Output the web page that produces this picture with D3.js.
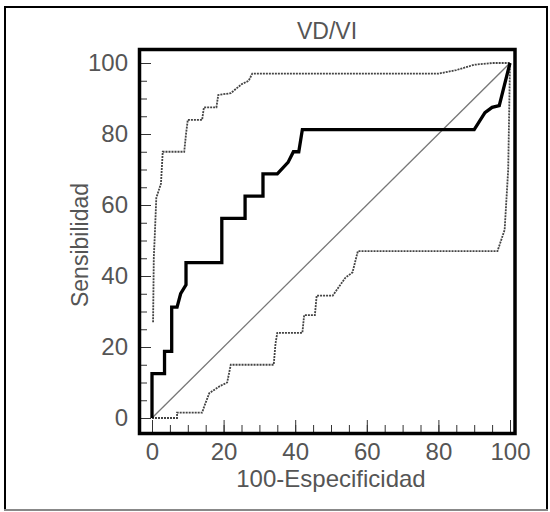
<!DOCTYPE html>
<html lang="es">
<head>
<meta charset="UTF-8">
<script src="https://d3js.org/d3.v7.min.js"></script>
<style>
  body { margin: 0; background: #fff; }
  svg text { font-family: "Liberation Sans", Arial, sans-serif; fill: #555; }
</style>
</head>
<body>
<div id="chart_area"></div>
<script>
  // ROC curve (100-Especificidad, Sensibilidad)
  var rocX = [0, 0, 3.5, 3.5, 5.5, 5.5, 7, 8, 9.5, 9.5, 19.5, 19.5, 26, 26, 31, 31, 35, 38, 39.5, 41, 42, 90, 93, 95, 97, 100];
  var rocY = [0, 12.5, 12.5, 18.75, 18.75, 31.25, 31.25, 35, 37.5, 43.75, 43.75, 56.25, 56.25, 62.5, 62.5, 68.75, 68.75, 72, 75, 75, 81.25, 81.25, 86, 87.5, 88, 100];

  // upper confidence band
  var upX = [0.3, 0.5, 0.8, 1.2, 2.5, 3, 9, 9.5, 10, 14, 14.5, 18, 18.5, 22, 25, 27, 28, 80, 85, 90, 95, 100];
  var upY = [27, 45, 52, 62, 66, 75, 75, 80, 84, 84, 87.5, 87.5, 91, 91.5, 94, 95, 97, 97, 98, 99.5, 100, 100];

  // lower confidence band
  var loX = [0, 7, 7, 14, 14.5, 16, 19, 21, 22, 34, 34.5, 35, 42, 42.5, 45.5, 46, 50.5, 54, 56, 57.5, 96.5, 98.5, 99.5, 100];
  var loY = [0, 0, 1.5, 1.5, 3, 7, 9, 10, 15, 15, 21, 24, 24, 29, 29, 34.5, 34.5, 39.5, 41, 47, 47, 53, 70, 100];

  var diagX = [0, 100];
  var diagY = [0, 100];

  var majorTicks = [0, 20, 40, 60, 80, 100];
  var minorTicks = d3.range(0, 101, 5);

  var width = 550, height = 512;

  var svg = d3.select("#chart_area").append("svg")
      .attr("width", width)
      .attr("height", height);

  // outer frame
  svg.append("rect")
      .attr("x", 5).attr("y", 7)
      .attr("width", 542).attr("height", 503)
      .attr("fill", "none").attr("stroke", "#000").attr("stroke-width", 2);
  svg.append("line")
      .attr("x1", 4).attr("x2", 548).attr("y1", 510).attr("y2", 510)
      .attr("stroke", "#888").attr("stroke-width", 2);

  var x = d3.scaleLinear().domain([0, 100]).range([152, 510]);
  var y = d3.scaleLinear().domain([0, 100]).range([418, 63]);

  var frame = { left: 139.5, top: 49.5, right: 515, bottom: 433.5 };

  // minor ticks
  svg.append("g")
      .attr("transform", "translate(0," + (frame.bottom - 1.5) + ")")
      .call(d3.axisBottom(x).tickValues(minorTicks).tickSize(-7).tickFormat(""))
      .call(function (g) { g.select(".domain").remove(); g.selectAll("line").attr("stroke", "#333"); });
  svg.append("g")
      .attr("transform", "translate(" + (frame.left + 1.5) + ",0)")
      .call(d3.axisLeft(y).tickValues(minorTicks).tickSize(-6).tickFormat(""))
      .call(function (g) { g.select(".domain").remove(); g.selectAll("line").attr("stroke", "#333"); });

  // major ticks + labels
  svg.append("g")
      .attr("transform", "translate(0," + (frame.bottom - 1.5) + ")")
      .call(d3.axisBottom(x).tickValues(majorTicks).tickSize(-12).tickPadding(11))
      .call(function (g) {
        g.select(".domain").remove();
        g.selectAll("line").attr("stroke", "#333");
        g.selectAll("text").style("font-size", "24px").attr("fill", "#555");
      });
  svg.append("g")
      .attr("transform", "translate(" + (frame.left + 1.5) + ",0)")
      .call(d3.axisLeft(y).tickValues(majorTicks).tickSize(-10).tickPadding(13))
      .call(function (g) {
        g.select(".domain").remove();
        g.selectAll("line").attr("stroke", "#333");
        g.selectAll("text").style("font-size", "24px").attr("fill", "#555");
      });

  function pts(xs, ys) { return xs.map(function (d, i) { return [d, ys[i]]; }); }
  var line = d3.line().x(function (d) { return x(d[0]); }).y(function (d) { return y(d[1]); });

  // diagonal reference
  svg.append("path")
      .attr("d", line(pts(diagX, diagY)))
      .attr("fill", "none").attr("stroke", "#777").attr("stroke-width", 1.3);

  // confidence bands
  [pts(upX, upY), pts(loX, loY)].forEach(function (band) {
    svg.append("path")
        .attr("d", line(band))
        .attr("fill", "none").attr("stroke", "#444")
        .attr("stroke-width", 1.8)
        .attr("stroke-dasharray", "2,1");
  });

  // ROC curve
  svg.append("path")
      .attr("d", line(pts(rocX, rocY)))
      .attr("fill", "none").attr("stroke", "#000")
      .attr("stroke-width", 3.3).attr("stroke-linejoin", "miter");

  // plot frame
  svg.append("rect")
      .attr("x", frame.left).attr("y", frame.top)
      .attr("width", frame.right - frame.left).attr("height", frame.bottom - frame.top)
      .attr("fill", "none").attr("stroke", "#000").attr("stroke-width", 3.5);

  // titles
  svg.append("text")
      .attr("x", 327).attr("y", 39)
      .attr("text-anchor", "middle")
      .style("font-size", "23px")
      .text("VD/VI");
  svg.append("text")
      .attr("x", 331).attr("y", 487)
      .attr("text-anchor", "middle")
      .style("font-size", "24px")
      .text("100-Especificidad");
  svg.append("text")
      .attr("transform", "translate(88,245) rotate(-90)")
      .attr("text-anchor", "middle")
      .style("font-size", "23px")
      .text("Sensibilidad");
</script>
</body>
</html>
